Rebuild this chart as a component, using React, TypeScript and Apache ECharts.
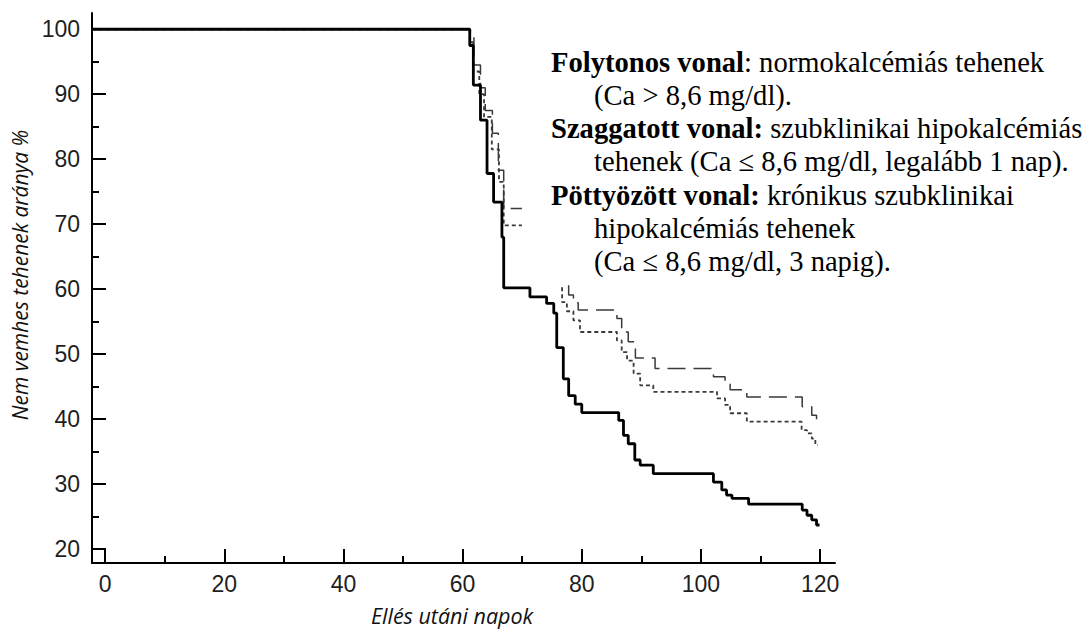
import React, { useEffect, useRef } from "react";
import * as echarts from "echarts";

// Axis extents
const X_MIN = -2.2;
const X_MAX = 122.5;
const Y_MIN = 17.85;
const Y_MAX = 102.5;

const X_MAJOR = [0, 20, 40, 60, 80, 100, 120];
const X_MINOR = [10, 30, 50, 70, 90, 110];
const Y_MAJOR = [20, 30, 40, 50, 60, 70, 80, 90, 100];
const Y_MINOR = [25, 35, 45, 55, 65, 75, 85, 95];

// Solid line: normocalcemic cows (x = day, y = % after the drop at that day)
const SOLID = [
  [X_MIN, 100], [61.2, 97.5], [61.8, 91.4], [63.0, 86.0], [64.1, 77.8], [65.2, 73.4],
  [66.6, 68.0], [66.9, 60.2], [71.3, 58.8], [74.1, 57.8], [75.3, 56.3], [75.8, 51.0],
  [76.9, 46.2], [77.8, 43.6], [78.9, 42.3], [80.0, 41.0], [86.2, 39.8], [87.0, 37.5],
  [87.8, 36.2], [88.9, 33.7], [89.8, 32.9], [92.0, 31.6], [102.1, 30.3], [103.5, 29.1],
  [104.3, 28.3], [105.2, 27.8], [108.0, 26.9], [117.0, 26.0], [117.8, 25.2], [118.6, 24.5],
  [119.4, 23.7], [119.9, 23.7],
];

// Dashed line: subclinical hypocalcemic cows (hidden behind the legend text in the middle)
const DASHED_EARLY = [
  [X_MIN, 100], [61.3, 98.8], [61.9, 94.5], [63.0, 91.0], [63.8, 87.5], [65.0, 84.0],
  [66.0, 78.3], [66.9, 72.4], [69.95, 72.4],
];
const DASHED_LATE = [
  [77.8, 60.6], [77.8, 59.1], [78.6, 57.9], [79.4, 56.8], [85.9, 55.5], [86.7, 53.4],
  [87.8, 51.9], [89.0, 49.4], [92.3, 47.8], [102.1, 46.5], [104.05, 45.5], [104.9, 44.5],
  [107.7, 43.4], [117.0, 41.9], [118.6, 40.6], [119.4, 39.8], [119.7, 39.8],
];

// Dotted line: chronic subclinical hypocalcemic cows
const DOTTED_EARLY = [
  [X_MIN, 100], [61.2, 98.0], [61.8, 93.5], [62.8, 90.0], [63.6, 86.5], [64.9, 81.5],
  [66.1, 76.5], [66.9, 69.8], [69.95, 69.8],
];
const DOTTED_LATE = [
  [76.7, 60.3], [76.7, 58.0], [77.5, 56.6], [78.6, 55.2], [79.7, 53.4], [85.9, 52.1],
  [86.7, 50.3], [87.6, 49.0], [88.7, 47.0], [89.8, 45.2], [92.0, 44.2], [102.7, 43.2],
  [104.05, 42.2], [104.9, 40.9], [107.7, 39.6], [116.9, 38.3], [117.8, 37.8], [118.6, 37.0],
  [119.2, 36.0], [119.6, 36.0],
];

const LEGEND_LINES = [
  { indent: false, text: "{b|Folytonos vonal}: normokalcémiás tehenek" },
  { indent: true, text: "(Ca > 8,6 mg/dl)." },
  { indent: false, text: "{b|Szaggatott vonal:} szubklinikai hipokalcémiás" },
  { indent: true, text: "tehenek (Ca ≤ 8,6 mg/dl, legalább 1 nap)." },
  { indent: false, text: "{b|Pöttyözött vonal:} krónikus szubklinikai" },
  { indent: true, text: "hipokalcémiás tehenek" },
  { indent: true, text: "(Ca ≤ 8,6 mg/dl, 3 napig)." },
];

const X_TITLE = "Ellés utáni napok";
const Y_TITLE = "Nem vemhes tehenek aránya %";

export default function App() {
  const ref = useRef<HTMLDivElement>(null);

  useEffect(() => {
    if (!ref.current) return;
    const chart = echarts.init(ref.current, undefined, { renderer: "svg" });

    const axisLabelStyle = {
      fontFamily: "Liberation Sans",
      fontSize: 23,
      color: "#1e1e1e",
    };
    const tickStyle = { color: "#000", width: 2 };

    const lineBase = (data: number[][], style: any) => ({
      type: "line",
      xAxisIndex: 0,
      yAxisIndex: 0,
      data,
      step: "end",
      symbol: "none",
      showSymbol: false,
      silent: true,
      lineStyle: style,
      z: 3,
    });

    const solidStyle = { color: "#000", width: 2.8, type: "solid" };
    const dashedStyle = { color: "#3a3a3a", width: 1.5, type: [18, 8] };
    const dottedStyle = { color: "#3a3a3a", width: 1.8, type: [4, 3] };

    const serif = "Liberation Serif";
    const FS = 28.6;
    const legendTexts = LEGEND_LINES.map((l, i) => ({
      type: "text",
      x: l.indent ? 594 : 551,
      y: 62 + i * 33.3,
      z: 100,
      silent: true,
      style: {
        text: l.text,
        fontFamily: serif,
        fontSize: FS,
        fill: "#000",
        align: "left",
        verticalAlign: "middle",
        rich: {
          b: { fontFamily: serif, fontSize: FS, fontWeight: "bold", fill: "#000" },
        },
      },
    }));

    chart.setOption({
      animation: false,
      backgroundColor: "#fff",
      grid: { left: 92, right: 255, top: 13, bottom: 67, containLabel: false },
      xAxis: [
        {
          type: "value",
          min: X_MIN,
          max: X_MAX,
          position: "bottom",
          axisLine: { show: true, onZero: false, lineStyle: { color: "#000", width: 2 } },
          axisTick: { show: true, inside: true, length: 14, customValues: X_MAJOR, lineStyle: tickStyle },
          axisLabel: { show: true, customValues: X_MAJOR, margin: 9, ...axisLabelStyle },
          splitLine: { show: false },
        },
        {
          type: "value",
          min: X_MIN,
          max: X_MAX,
          position: "bottom",
          axisLine: { show: false, onZero: false },
          axisTick: { show: true, inside: true, length: 7, customValues: X_MINOR, lineStyle: tickStyle },
          axisLabel: { show: false },
          splitLine: { show: false },
        },
      ],
      yAxis: [
        {
          type: "value",
          min: Y_MIN,
          max: Y_MAX,
          position: "left",
          axisLine: { show: true, onZero: false, lineStyle: { color: "#000", width: 2 } },
          axisTick: { show: true, inside: true, length: 14, customValues: Y_MAJOR, lineStyle: tickStyle },
          axisLabel: { show: true, customValues: Y_MAJOR, margin: 12, ...axisLabelStyle },
          splitLine: { show: false },
        },
        {
          type: "value",
          min: Y_MIN,
          max: Y_MAX,
          position: "left",
          axisLine: { show: false, onZero: false },
          axisTick: { show: true, inside: true, length: 7, customValues: Y_MINOR, lineStyle: tickStyle },
          axisLabel: { show: false },
          splitLine: { show: false },
        },
      ],
      series: [
        lineBase(DOTTED_EARLY, dottedStyle),
        lineBase(DOTTED_LATE, dottedStyle),
        lineBase(DASHED_EARLY, dashedStyle),
        lineBase(DASHED_LATE, dashedStyle),
        lineBase(SOLID, solidStyle),
      ],
      graphic: [
        ...legendTexts,
        {
          type: "text",
          x: 452,
          y: 615,
          z: 100,
          silent: true,
          style: {
            text: X_TITLE,
            fontFamily: "Open Sans",
            fontStyle: "italic",
            fontSize: 21.5,
            fill: "#111",
            align: "center",
            verticalAlign: "middle",
          },
        },
        {
          type: "text",
          x: 20,
          y: 275,
          rotation: Math.PI / 2,
          z: 100,
          silent: true,
          style: {
            text: Y_TITLE,
            fontFamily: "Open Sans",
            fontStyle: "italic",
            fontSize: 21,
            fill: "#111",
            align: "center",
            verticalAlign: "middle",
          },
        },
      ],
    });

    return () => {
      chart.dispose();
    };
  }, []);

  return (
    <div
      ref={ref}
      style={{ position: "absolute", left: 0, top: 0, width: 1090, height: 630, background: "#fff" }}
    />
  );
}
